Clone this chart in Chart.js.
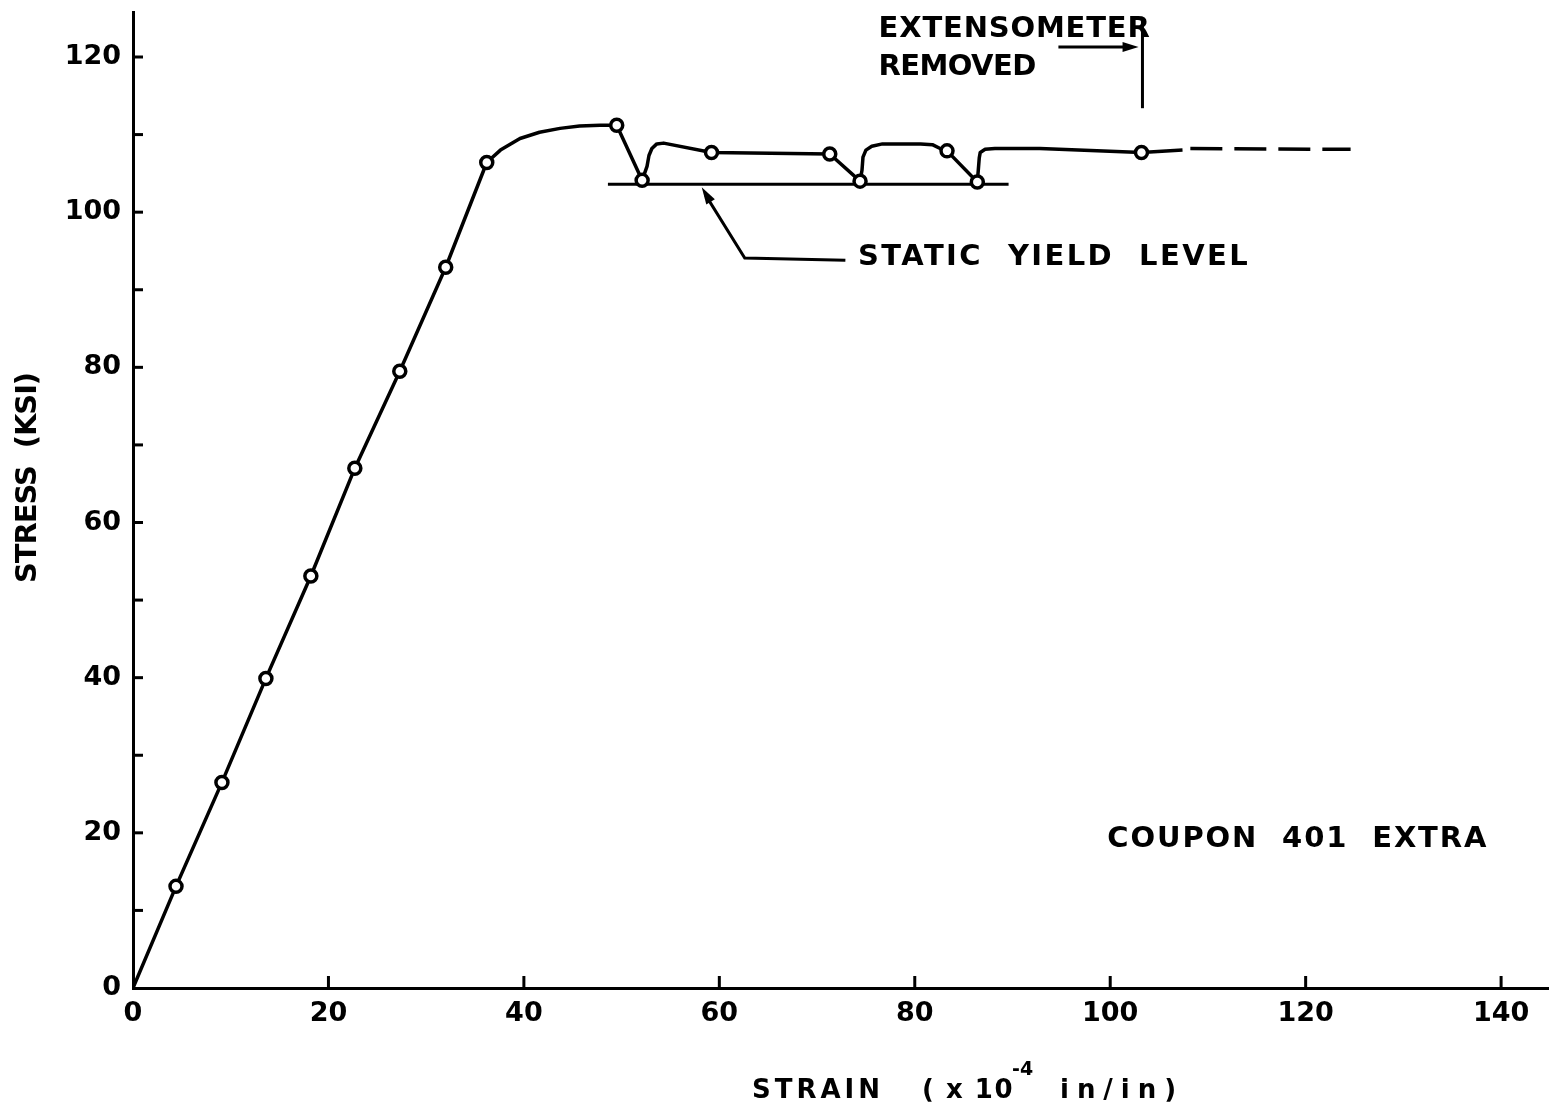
<!DOCTYPE html>
<html>
<head>
<meta charset="utf-8">
<script src="https://cdn.jsdelivr.net/npm/chart.js@4.4.1/dist/chart.umd.min.js"></script>
<style>
  body { margin: 0; background: #fff; }
  canvas { display: block; }
</style>
</head>
<body>
<canvas id="couponChart" width="1551" height="1114"></canvas>
<script>
// measured points (circles)
const markerStrain = [4.4, 9.1, 13.6, 18.2, 22.7, 27.3, 32.0, 36.2, 49.5, 52.1, 59.2, 71.3, 74.4, 83.3, 86.4, 103.2];
const markerStress = [13.1, 26.5, 39.9, 53.1, 67.0, 79.5, 92.9, 106.4, 111.2, 104.1, 107.7, 107.5, 104.0, 107.9, 103.9, 107.7];

// faired curve
const curveStrain = [0, 4.4, 9.1, 13.6, 18.2, 22.7, 27.3, 32.0, 36.2,
  37.6, 39.6, 41.6, 43.7, 45.7, 47.8, 49.5,
  52.1, 52.6, 52.8, 53.1, 53.6, 54.3, 59.2, 71.3,
  74.4, 74.6, 74.7, 75.0, 75.6, 76.7, 80.6, 81.8, 82.6, 83.3,
  86.4, 86.5, 86.6, 86.7, 87.2, 88.2, 92.8, 103.2, 107.4];
const curveStress = [0, 13.1, 26.5, 39.9, 53.1, 67.0, 79.5, 92.9, 106.4,
  108.0, 109.5, 110.3, 110.8, 111.1, 111.2, 111.2,
  104.1, 105.9, 107.3, 108.2, 108.8, 108.9, 107.7, 107.5,
  104.0, 105.4, 107.1, 108.0, 108.5, 108.8, 108.8, 108.7, 108.2, 107.9,
  103.9, 105.4, 107.0, 107.7, 108.1, 108.2, 108.2, 107.7, 108.0];

// dashed continuation
const dashStrain = [108.2, 124.6];
const dashStress = [108.2, 108.1];

// static yield level
const yieldStrain = [48.6, 89.6];
const yieldStress = [103.6, 103.6];

const xTickLabels = [0, 20, 40, 60, 80, 100, 120, 140];
const yTickLabels = [0, 20, 40, 60, 80, 100, 120];

const FONT = "'DejaVu Sans', 'Liberation Sans', sans-serif";

function pts(xs, ys) {
  return xs.map(function (x, i) { return { x: x, y: ys[i] }; });
}

function line(ctx, x1, y1, x2, y2) {
  ctx.beginPath();
  ctx.moveTo(x1, y1);
  ctx.lineTo(x2, y2);
  ctx.stroke();
}

function arrowHead(ctx, x1, y1, x2, y2, len, half) {
  const ang = Math.atan2(y2 - y1, x2 - x1);
  ctx.beginPath();
  ctx.moveTo(x2, y2);
  ctx.lineTo(x2 - len * Math.cos(ang) + half * Math.sin(ang), y2 - len * Math.sin(ang) - half * Math.cos(ang));
  ctx.lineTo(x2 - len * Math.cos(ang) - half * Math.sin(ang), y2 - len * Math.sin(ang) + half * Math.cos(ang));
  ctx.closePath();
  ctx.fill();
}

// text stretched to a given width with letter spacing, left aligned
function spaced(ctx, text, x, y, width) {
  ctx.letterSpacing = '0px';
  const w = ctx.measureText(text).width;
  ctx.letterSpacing = ((width - w) / text.length) + 'px';
  ctx.fillText(text, x, y);
  ctx.letterSpacing = '0px';
}

const notes = {
  id: 'notes',
  afterDraw: function (chart) {
    const ctx = chart.ctx, xs = chart.scales.x, ys = chart.scales.y, a = chart.chartArea;
    const X = function (v) { return xs.getPixelForValue(v); };
    const Y = function (v) { return ys.getPixelForValue(v); };
    ctx.save();
    ctx.strokeStyle = '#000';
    ctx.fillStyle = '#000';
    ctx.lineWidth = 3;

    // inward tick marks
    ys.ticks.forEach(function (t) {
      if (t.value > 0) line(ctx, a.left, Y(t.value), a.left + 10, Y(t.value));
    });
    xs.ticks.forEach(function (t) {
      if (t.value > 0) line(ctx, X(t.value), a.bottom, X(t.value), a.bottom - 12);
    });

    // static yield leader
    ctx.beginPath();
    ctx.moveTo(X(72.9), Y(93.8));
    ctx.lineTo(X(62.6), Y(94.1));
    ctx.lineTo(X(58.6), Y(102.2));
    ctx.stroke();
    arrowHead(ctx, X(62.6), Y(94.1), X(58.2), Y(103.2), 17, 5);

    // extensometer leader
    line(ctx, X(94.7), Y(121.3), X(101.5), Y(121.3));
    arrowHead(ctx, X(94.7), Y(121.3), X(102.9), Y(121.3), 16, 5);
    line(ctx, X(103.3), Y(124.7), X(103.3), Y(113.4));

    // labels
    ctx.textBaseline = 'middle';
    ctx.textAlign = 'left';
    ctx.font = 'bold 29px ' + FONT;
    spaced(ctx, 'STATIC  YIELD  LEVEL', X(74.2), Y(94.1), 392);
    spaced(ctx, 'COUPON  401  EXTRA', X(99.7), Y(19.1), 381);
    spaced(ctx, 'EXTENSOMETER', X(76.3), Y(123.5), 272);
    spaced(ctx, 'REMOVED', X(76.3), Y(118.6), 157);

    // axis titles
    ctx.save();
    ctx.translate(28, 583);
    ctx.rotate(-Math.PI / 2);
    ctx.font = 'bold 29px ' + FONT;
    spaced(ctx, 'STRESS  (KSI)', 0, 0, 210);
    ctx.restore();

    ctx.font = 'bold 26px ' + FONT;
    spaced(ctx, 'STRAIN', 752, 1091, 132);
    spaced(ctx, '( x 10', 922, 1091, 92);
    ctx.font = 'bold 19px ' + FONT;
    ctx.fillText('-4', 1012, 1070);
    ctx.font = 'bold 26px ' + FONT;
    spaced(ctx, 'in/in)', 1060, 1091, 124);

    ctx.restore();
  }
};

new Chart(document.getElementById('couponChart'), {
  type: 'scatter',
  data: {
    datasets: [{
        data: pts(markerStrain, markerStress),
        showLine: false,
        pointRadius: 6,
        pointBorderWidth: 3.5,
        pointBorderColor: '#000',
        pointBackgroundColor: '#fff',
        order: 0
      }, {
        data: pts(curveStrain, curveStress),
        showLine: true,
        borderColor: '#000',
        borderWidth: 3.5,
        borderJoinStyle: 'round',
        pointRadius: 0,
        tension: 0,
        order: 1
      }, {
        data: pts(dashStrain, dashStress),
        showLine: true,
        borderColor: '#000',
        borderWidth: 3.5,
        borderDash: [32, 12],
        pointRadius: 0,
        order: 1
      }, {
        data: pts(yieldStrain, yieldStress),
        showLine: true,
        borderColor: '#000',
        borderWidth: 3,
        pointRadius: 0,
        order: 1
      }
    ]
  },
  options: {
    responsive: false,
    animation: false,
    layout: { autoPadding: false, padding: { top: 12, right: 3, left: 0, bottom: 0 } },
    plugins: {
      legend: { display: false },
      tooltip: { enabled: false }
    },
    scales: {
      x: {
        type: 'linear',
        min: 0,
        max: 144.8,
        afterFit: function (s) { s.height = 126; s.paddingLeft = 0; s.paddingRight = 0; },
        grid: { display: false, drawTicks: false },
        border: { display: true, color: '#000', width: 3 },
        ticks: {
          stepSize: 20,
          includeBounds: false,
          padding: 10,
          color: '#000',
          font: { family: FONT, size: 27, weight: 'bold' },
          callback: function (v) { return xTickLabels.indexOf(v) >= 0 ? String(v) : ''; }
        }
      },
      y: {
        type: 'linear',
        min: 0,
        max: 125.8,
        afterFit: function (s) { s.width = 133; s.paddingTop = 0; s.paddingBottom = 0; },
        grid: { display: false, drawTicks: false },
        border: { display: true, color: '#000', width: 3 },
        ticks: {
          stepSize: 10,
          includeBounds: false,
          padding: 12,
          color: '#000',
          font: { family: FONT, size: 27, weight: 'bold' },
          callback: function (v) { return yTickLabels.indexOf(v) >= 0 ? String(v) : ''; }
        }
      }
    }
  },
  plugins: [notes]
});
</script>
</body>
</html>
